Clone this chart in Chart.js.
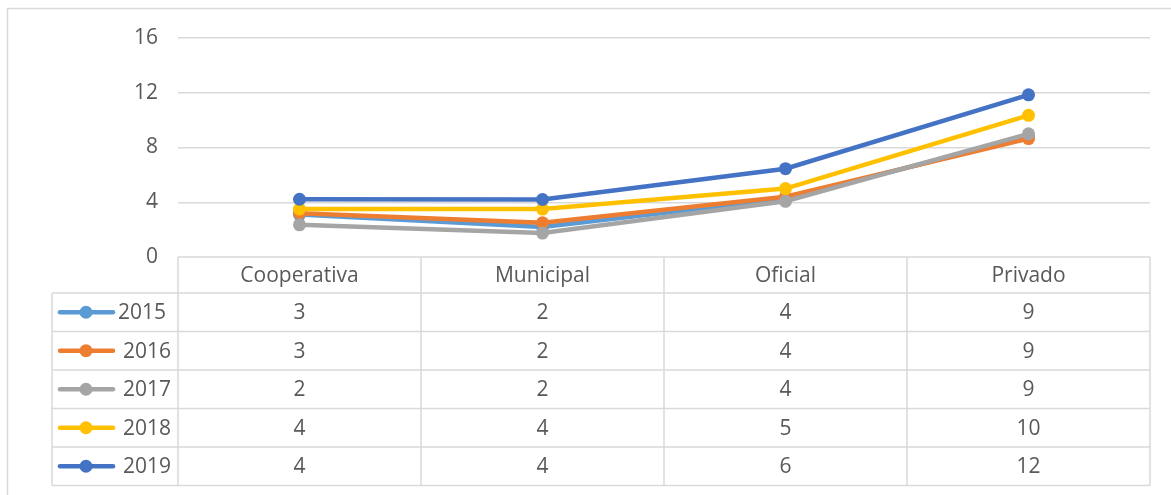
<!DOCTYPE html>
<html>
<head>
<meta charset="utf-8">
<script src="https://cdn.jsdelivr.net/npm/chart.js@4/dist/chart.umd.min.js"></script>
<style>
  html, body { margin: 0; padding: 0; background: #fff; }
  #wrap { width: 1171px; height: 495px; }
</style>
</head>
<body>
<div id="wrap"><canvas id="tipo_canvas" width="1171" height="495"></canvas></div>
<script>
// data
const categories = ["Cooperativa", "Municipal", "Oficial", "Privado"];
const years = ["2015", "2016", "2017", "2018", "2019"];
const serie2015 = [3.1, 2.2, 4.25, 8.8];
const serie2016 = [3.2, 2.5, 4.4, 8.65];
const serie2017 = [2.35, 1.75, 4.07, 9.0];
const serie2018 = [3.5, 3.5, 5.0, 10.35];
const serie2019 = [4.22, 4.2, 6.45, 11.85];
// values shown in the table under the chart
const table2015 = [3, 2, 4, 9];
const table2016 = [3, 2, 4, 9];
const table2017 = [2, 2, 4, 9];
const table2018 = [4, 4, 5, 10];
const table2019 = [4, 4, 6, 12];
const yTicks = [0, 4, 8, 12, 16];

const series = [serie2015, serie2016, serie2017, serie2018, serie2019];
const tables = [table2015, table2016, table2017, table2018, table2019];
const colors = ["#5B9BD5", "#ED7D31", "#A5A5A5", "#FFC000", "#4472C4"];
const gridColor = "#d9d9d9";
const textColor = "#595959";
const fontFam = "'Open Sans', sans-serif";

// table under the plot, drawn from the x scale
const dataTable = {
  id: 'dataTable',
  beforeDraw(chart) {
    const c = chart.ctx;
    c.save();
    c.strokeStyle = gridColor;
    c.lineWidth = 1.5;
    c.beginPath();
    c.moveTo(7.5, 495);
    c.lineTo(7.5, 8.5);
    c.lineTo(1171, 8.5);
    c.stroke();
    c.restore();
  },
  afterDraw(chart) {
    const c = chart.ctx;
    const x = chart.scales.x;
    const area = chart.chartArea;
    const colW = (area.right - area.left) / categories.length;
    const top = area.bottom;
    const headH = 36;
    const rowH = 38.5;
    const legLeft = 52;
    const bottom = top + headH + rowH * years.length;
    c.save();
    c.strokeStyle = gridColor;
    c.lineWidth = 1.5;
    c.beginPath();
    // header top
    c.moveTo(area.left, top); c.lineTo(area.right, top);
    for (let r = 0; r <= years.length; r++) {
      const y = top + headH + r * rowH;
      c.moveTo(legLeft, y); c.lineTo(area.right, y);
    }
    for (let i = 0; i <= categories.length; i++) {
      const xx = area.left + i * colW;
      c.moveTo(xx, top); c.lineTo(xx, bottom);
    }
    c.moveTo(legLeft, top + headH); c.lineTo(legLeft, bottom);
    c.stroke();

    c.fillStyle = textColor;
    c.font = "21px " + fontFam;
    c.textAlign = 'center';
    c.textBaseline = 'middle';
    categories.forEach((cat, i) => {
      c.fillText(cat, x.getPixelForValue(i), top + headH / 2 + 1);
    });
    years.forEach((yr, r) => {
      const cy = top + headH + r * rowH + rowH / 2 + 1;
      tables[r].forEach((v, i) => {
        c.fillText(String(v), x.getPixelForValue(i), cy);
      });
      // legend key
      c.strokeStyle = colors[r];
      c.lineWidth = 4.5;
      c.lineCap = 'round';
      c.beginPath();
      c.moveTo(60, cy - 1); c.lineTo(113, cy - 1);
      c.stroke();
      c.fillStyle = colors[r];
      c.beginPath();
      c.arc(86, cy - 1, 6.5, 0, Math.PI * 2);
      c.fill();
      c.fillStyle = textColor;
      c.textAlign = 'left';
      c.fillText(yr, r === 0 ? 118 : 123, cy);
      c.textAlign = 'center';
    });
    c.restore();
  }
};

const tipo_frises = document.getElementById('tipo_canvas').getContext('2d');
const tipo_canvas = new Chart(tipo_frises, {
  type: 'line',
  data: {
    labels: categories,
    datasets: years.map((yr, i) => ({
      label: yr,
      data: series[i],
      borderColor: colors[i],
      backgroundColor: colors[i],
      pointBackgroundColor: colors[i],
      pointBorderColor: colors[i],
      borderWidth: 4.5,
      pointRadius: 6.5,
      pointBorderWidth: 0,
      fill: false,
      tension: 0,
      order: years.length - i,
    })),
  },
  options: {
    responsive: false,
    animation: false,
    layout: { padding: { top: 38, right: 21, left: 0, bottom: 0 } },
    plugins: {
      legend: { display: false },
      tooltip: { enabled: false },
    },
    scales: {
      x: {
        offset: true,
        grid: { display: false },
        border: { display: false },
        ticks: { display: false },
        afterFit: (s) => { s.height = 238; },
      },
      y: {
        min: 0,
        max: 16,
        afterBuildTicks: (s) => { s.ticks = yTicks.map(v => ({ value: v })); },
        grid: { color: (ctx) => ctx.tick.value === 0 ? 'rgba(0,0,0,0)' : gridColor, lineWidth: 1.5, drawTicks: false },
        border: { display: false },
        ticks: { color: textColor, font: { family: fontFam, size: 21 }, padding: 20 },
        afterFit: (s) => { s.width = 178; },
      },
    },
  },
  plugins: [dataTable],
});
</script>
</body>
</html>
